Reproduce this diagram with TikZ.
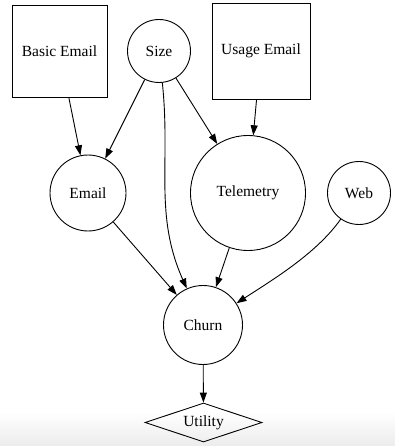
\documentclass[tikz,border=0pt]{standalone}
\usepackage{fontspec}
\setmainfont{Liberation Serif}
\usetikzlibrary{arrows.meta,shapes.geometric}
\definecolor{ink}{HTML}{000000}
\definecolor{shadow}{HTML}{ECECEC}
\tikzset{
  var/.style={draw=ink, circle, line width=0.9pt, inner sep=0pt},
  given/.style={draw=ink, rectangle, line width=0.9pt, inner sep=0pt},
  util/.style={draw=ink, diamond, line width=0.9pt, inner sep=0pt, aspect=3},
  edge/.style={draw=ink, line width=0.9pt, -{Triangle[length=10pt,width=7pt]}},
  every node/.style={font=\fontsize{15.5}{18}\selectfont}
}

\begin{document}
\begin{tikzpicture}[x=1pt, y=-1pt]
  \useasboundingbox (0,0) rectangle (395,446);
  % faint shadow at the bottom of the screenshot
  \shade[top color=white, bottom color=shadow] (0,412) rectangle (395,446);

  \node[given, minimum width=95, minimum height=92] (basic) at (59.5,51) {Basic Email};
  \node[var, minimum size=63] (size) at (159,51) {Size};
  \node[given, minimum width=98, minimum height=96] (usage) at (261,51) {Usage Email};

  \node[var, minimum size=76] (email) at (88,193) {Email};
  \node[var, minimum size=115] (tele) at (248,193) {Telemetry};
  \node[var, minimum size=63] (web) at (359,193) {Web};

  \node[var, minimum size=79] (churn) at (203,325) {Churn};
  \node[util, minimum width=117, minimum height=39] (utility) at (203.5,422.5) {Utility};

  \draw[edge] (basic) -- (email);
  \draw[edge] (size) -- (email);
  \draw[edge] (size) -- (tele);
  \draw[edge] (usage) -- (tele);
  \draw[edge] (size) to[out=-84, in=114] (churn);
  \draw[edge] (email) -- (churn);
  \draw[edge] (tele) -- (churn);
  \draw[edge] (web) to[out=-125, in=33, looseness=0.8] (churn);
  \draw[edge] (churn) -- (utility);
\end{tikzpicture}
\end{document}
